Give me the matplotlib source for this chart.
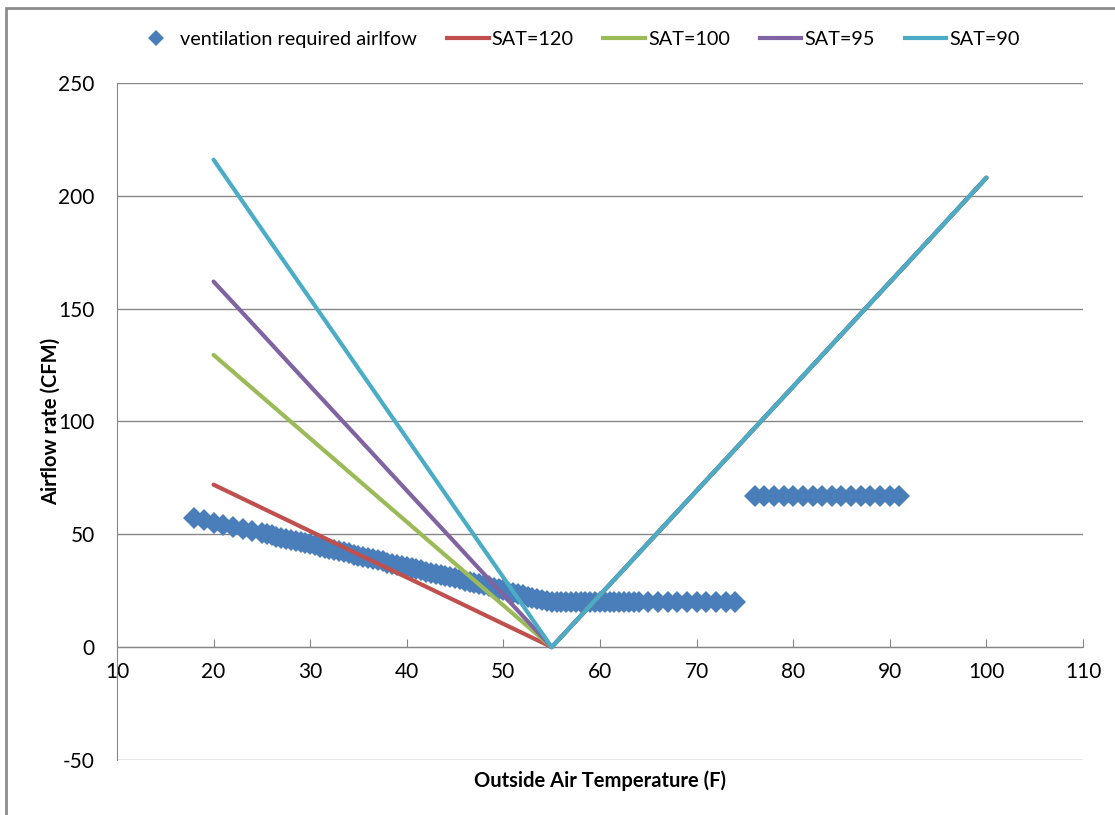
import matplotlib.pyplot as plt
from matplotlib.lines import Line2D
from matplotlib.patches import Rectangle

plt.rcParams['font.family'] = ['Lato', 'DejaVu Sans']
plt.rcParams['axes.unicode_minus'] = False

# ventilation required airflow (scatter)
vent_temp = [18, 19, 20, 21, 22, 23, 24,
             25, 25.5, 26, 26.5, 27, 27.5, 28, 28.5, 29, 29.5,
             30, 30.5, 31, 31.5, 32, 32.5, 33, 33.5, 34, 34.5,
             35, 35.5, 36, 36.5, 37, 37.5, 38, 38.5, 39, 39.5,
             40, 40.5, 41, 41.5, 42, 42.5, 43, 43.5, 44, 44.5,
             45, 45.5, 46, 46.5, 47, 47.5, 48, 48.5, 49, 49.5,
             50, 50.5, 51, 51.5, 52, 52.5, 53, 53.5, 54, 54.5,
             55, 55.5, 56, 56.5, 57, 57.5, 58, 58.5, 59, 59.5,
             60, 60.5, 61, 61.5, 62, 62.5, 63, 63.5, 64,
             65, 66, 67, 68, 69, 70, 71, 72, 73, 74,
             76, 77, 78, 79, 80, 81, 82, 83, 84, 85, 86, 87, 88, 89, 90, 91]
vent_flow = [57.3, 56.2, 55.2, 54.2, 53.4, 52.5, 51.5,
             50.6, 50.1, 49.6, 49.0, 48.5, 48.0, 47.5, 47.0, 46.5, 46.1,
             45.6, 45.1, 44.6, 44.1, 43.5, 43.0, 42.5, 42.0, 41.5, 41.0,
             40.5, 40.0, 39.5, 39.0, 38.5, 38.0, 37.5, 37.0, 36.5, 36.0,
             35.5, 35.0, 34.5, 34.0, 33.5, 33.0, 32.5, 32.0, 31.5, 31.0,
             30.5, 30.0, 29.5, 29.0, 28.5, 28.0, 27.4, 26.9, 26.3, 25.8,
             25.2, 24.6, 24.0, 23.5, 23.0, 22.4, 21.9, 21.4, 21.0, 20.5,
             20.2, 20.0, 20, 20, 20, 20, 20, 20, 20, 20,
             20, 20, 20, 20, 20, 20, 20, 20, 20,
             20, 20, 20, 20, 20, 20, 20, 20, 20, 20,
             67, 67, 67, 67, 67, 67, 67, 67, 67, 67, 67, 67, 67, 67, 67, 67]

# supply air temperature curves
sat_temp = [20, 25, 30, 35, 40, 45, 50, 54, 55, 56, 60, 65, 70, 75, 80, 85, 90, 95, 100]
right_side = [4.6, 23.1, 46.2, 69.3, 92.4, 115.5, 138.6, 161.7, 184.8, 208]
sat120 = [72, 61.7, 51.4, 41.1, 30.9, 20.6, 10.3, 2.1, 0] + right_side
sat100 = [129.5, 111, 92.5, 74, 55.5, 37, 18.5, 3.7, 0] + right_side
sat95 = [162, 138.9, 115.7, 92.6, 69.4, 46.3, 23.1, 4.6, 0] + right_side
sat90 = [216, 185.1, 154.3, 123.4, 92.6, 61.7, 30.9, 6.2, 0] + right_side

labels = ['SAT=120', 'SAT=100', 'SAT=95', 'SAT=90']
colors = ['#C0504D', '#9BBB59', '#8064A2', '#4BACC6']
blue = '#4A7EBB'
grid_col = '#868686'

fig = plt.figure(figsize=(11.15, 8.15), dpi=100)
ax = fig.add_axes([0.1049, 0.0675, 0.8664, 0.8307])

ax.plot(vent_temp, vent_flow, linestyle='none', marker='D', markersize=11,
        color=blue, markeredgewidth=0, zorder=2)
for ys, c in zip([sat120, sat100, sat95, sat90], colors):
    ax.plot(sat_temp, ys, color=c, linewidth=3, solid_capstyle='round',
            solid_joinstyle='round', zorder=3)

ax.set_xlim(10, 110)
ax.set_ylim(-50, 250)
ax.set_xticks(range(10, 111, 10))
ax.set_yticks(range(-50, 251, 50))
ax.yaxis.grid(True, color=grid_col, linewidth=1)
ax.set_axisbelow(True)

ax.spines['bottom'].set_position(('data', 0))
for s in ['top', 'right']:
    ax.spines[s].set_visible(False)
for s in ['bottom', 'left']:
    ax.spines[s].set_color(grid_col)
ax.tick_params(axis='x', direction='in', length=6, color=grid_col, pad=11, labelsize=15)
ax.tick_params(axis='y', length=0, pad=16, labelsize=15)

ax.set_xlabel('Outside Air Temperature (F)', fontsize=14.5, fontweight='bold')
ax.xaxis.set_label_coords(0.5, -0.016)
ax.set_ylabel('Airflow rate (CFM)', fontsize=14.5, fontweight='bold')
ax.yaxis.set_label_coords(-0.058, 0.5)

handles = [Line2D([], [], linestyle='none', marker='D', markersize=8, color=blue,
                  markeredgewidth=0)]
handles += [Line2D([], [], color=c, linewidth=3) for c in colors]
fig.legend(handles, ['ventilation required airlfow'] + labels, loc='center',
           bbox_to_anchor=(0.518, 0.951), ncol=5, frameon=False, fontsize=14.3,
           handlelength=2.1, handletextpad=0.15, columnspacing=1.5)

fig.patches.append(Rectangle((6 / 1115, -0.1), 1.2, 1.1 - 8 / 815, transform=fig.transFigure,
                             fill=False, edgecolor='#8c8c8c', linewidth=2))

fig.savefig('out.png', dpi=100)
